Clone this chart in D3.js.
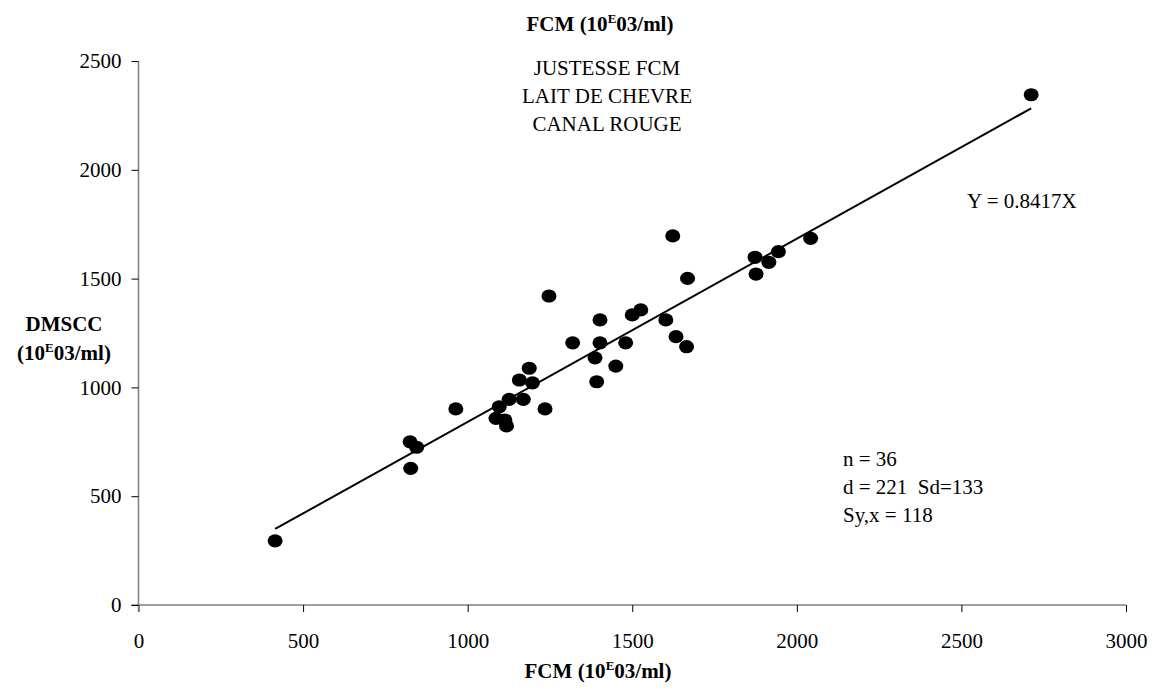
<!DOCTYPE html>
<html>
<head>
<meta charset="utf-8">
<script src="https://cdn.jsdelivr.net/npm/d3@7"></script>
<style>
  body { margin: 0; background: #fff; }
  text { font-family: "Liberation Serif", "Times New Roman", serif; fill: #000; }
</style>
</head>
<body>
<div id="chart"></div>
<script>
// FCM (x) and DMSCC (y) counts, 10E03/ml
const fcm = [415, 825, 845, 827, 964, 1086, 1096, 1113, 1118, 1126, 1169, 1157,
  1187, 1197, 1235, 1247, 1319, 1387, 1392, 1402, 1402, 1450, 1480, 1500,
  1526, 1602, 1623, 1633, 1665, 1668, 1873, 1876, 1915, 1944, 2042, 2712];
const dmscc = [295, 750, 725, 628, 901, 858, 911, 850, 823, 945, 945, 1034,
  1088, 1021, 901, 1420, 1205, 1136, 1026, 1205, 1310, 1098, 1205, 1333,
  1356, 1310, 1696, 1233, 1187, 1501, 1598, 1521, 1575, 1624, 1685, 2345];

const xTicks = [0, 500, 1000, 1500, 2000, 2500, 3000];
const yTicks = [0, 500, 1000, 1500, 2000, 2500];
const slope = 0.8417;
const fitRange = [415, 2712];
const titleLines = ['JUSTESSE FCM', 'LAIT DE CHEVRE', 'CANAL ROUGE'];
const statLines = ['n = 36', 'd = 221  Sd=133', 'Sy,x = 118'];

const width = 1159, height = 691;
const margin = { left: 138.5, right: 33, top: 61, bottom: 86 };

const svg = d3.select('#chart').append('svg')
  .attr('width', width)
  .attr('height', height);

const x = d3.scaleLinear().domain([0, 3000]).range([margin.left, width - margin.right]);
const y = d3.scaleLinear().domain([0, 2500]).range([height - margin.bottom, margin.top]);

// axes
const xAxis = svg.append('g')
  .attr('transform', 'translate(0,' + y(0) + ')')
  .call(d3.axisBottom(x).tickValues(xTicks).tickSize(7).tickPadding(21).tickFormat(d3.format('d')));
const yAxis = svg.append('g')
  .attr('transform', 'translate(' + x(0) + ',0)')
  .call(d3.axisLeft(y).tickValues(yTicks).tickSize(7).tickPadding(10).tickFormat(d3.format('d')));

[xAxis, yAxis].forEach(a => {
  a.select('.domain').attr('stroke', '#808080').attr('stroke-width', 1.5);
  a.selectAll('.tick line').attr('stroke', '#000');
  a.selectAll('.tick text')
    .attr('font-family', '"Liberation Serif", serif')
    .attr('font-size', 21)
    .attr('fill', '#000');
});
// extend domain lines over the opposite axis' tick length
xAxis.select('.domain').attr('d', 'M' + (x(0) - 7) + ',0H' + x(3000));
yAxis.select('.domain').attr('d', 'M0,' + (y(0) + 7) + 'V' + y(2500));

// fit line
svg.append('line')
  .attr('x1', x(fitRange[0])).attr('y1', y(slope * fitRange[0]))
  .attr('x2', x(fitRange[1])).attr('y2', y(slope * fitRange[1]))
  .attr('stroke', '#000')
  .attr('stroke-width', 2);

// points
svg.append('g').selectAll('ellipse')
  .data(fcm.map((d, i) => [d, dmscc[i]]))
  .join('ellipse')
  .attr('cx', d => x(d[0]))
  .attr('cy', d => y(d[1]))
  .attr('rx', 7.5)
  .attr('ry', 6.6)
  .attr('fill', '#000');

// superscript label helper
function unitLabel(sel) {
  sel.append('tspan').text('(10');
  sel.append('tspan').attr('font-size', 13).attr('dy', -8).text('E');
  sel.append('tspan').attr('dy', 8).text('03/ml)');
}

const topTitle = svg.append('text')
  .attr('x', 600).attr('y', 31)
  .attr('text-anchor', 'middle')
  .attr('font-weight', 'bold')
  .attr('font-size', 21);
topTitle.append('tspan').text('FCM ');
unitLabel(topTitle);

const bottomTitle = svg.append('text')
  .attr('x', 598).attr('y', 678)
  .attr('text-anchor', 'middle')
  .attr('font-weight', 'bold')
  .attr('font-size', 21);
bottomTitle.append('tspan').text('FCM ');
unitLabel(bottomTitle);

svg.append('text')
  .attr('x', 64).attr('y', 331)
  .attr('text-anchor', 'middle')
  .attr('font-weight', 'bold')
  .attr('font-size', 21)
  .text('DMSCC');
const yTitle = svg.append('text')
  .attr('x', 64).attr('y', 360)
  .attr('text-anchor', 'middle')
  .attr('font-weight', 'bold')
  .attr('font-size', 21);
unitLabel(yTitle);

svg.append('g').selectAll('text')
  .data(titleLines)
  .join('text')
  .attr('x', 607)
  .attr('y', (d, i) => 75 + i * 28)
  .attr('text-anchor', 'middle')
  .attr('font-size', 21)
  .text(d => d);

svg.append('text')
  .attr('x', 967).attr('y', 208)
  .attr('font-size', 21)
  .text('Y = 0.8417X');

svg.append('g').selectAll('text')
  .data(statLines)
  .join('text')
  .attr('x', 843)
  .attr('y', (d, i) => 466 + i * 28)
  .attr('font-size', 21)
  .style('white-space', 'pre')
  .text(d => d);
</script>
</body>
</html>
